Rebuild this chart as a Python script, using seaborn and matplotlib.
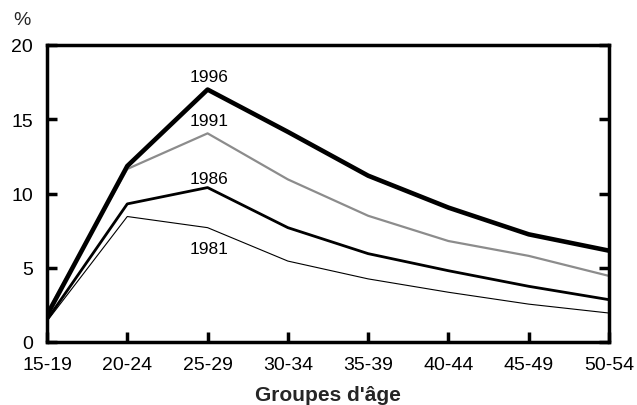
import matplotlib
matplotlib.use('Agg')
import matplotlib.pyplot as plt
import seaborn as sns
import pandas as pd

age_groups = ['15-19', '20-24', '25-29', '30-34', '35-39', '40-44', '45-49', '50-54']
y1981 = [1.4, 8.45, 7.7, 5.45, 4.25, 3.35, 2.55, 1.95]
y1986 = [1.5, 9.3, 10.4, 7.7, 5.95, 4.8, 3.75, 2.85]
y1991 = [2.0, 11.65, 14.05, 10.95, 8.5, 6.8, 5.8, 4.45]
y1996 = [1.8, 11.85, 17.0, 14.15, 11.2, 9.05, 7.25, 6.15]
years = ['1981', '1986', '1991', '1996']

df = pd.DataFrame({'age': age_groups * 4,
                   'x': list(range(len(age_groups))) * 4,
                   'value': y1981 + y1986 + y1991 + y1996,
                   'year': [y for y in years for _ in age_groups]})

sns.set_style('white')
plt.rcParams['font.family'] = ['Liberation Sans', 'DejaVu Sans']

fig = plt.figure(figsize=(6.37, 4.06), dpi=100)
ax = fig.add_axes([47 / 637, 1 - 343 / 406, 562 / 637, 297 / 406])

styles = {'1981': ('black', 0.8), '1986': ('black', 2.0),
          '1991': ('#8c8c8c', 1.6), '1996': ('black', 3.3)}
for yr in years:
    c, lw = styles[yr]
    sns.lineplot(data=df[df['year'] == yr], x='x', y='value', color=c,
                 linewidth=lw, ax=ax, legend=False)

# year labels near the 25-29 point
label_y = {'1996': 17.85, '1991': 14.92, '1986': 11.04, '1981': 6.3}
for yr in years:
    ax.text(2.02, label_y[yr], yr, ha='center', va='center', fontsize=12.5,
            color='black')

ax.set_xlim(0, len(age_groups) - 1)
ax.set_ylim(0, 20)
ax.set_xticks(range(len(age_groups)))
ax.set_xticklabels(age_groups)
ax.set_yticks([0, 5, 10, 15, 20])
ax.tick_params(axis='both', direction='in', length=7, width=2.5, labelsize=14,
               colors='black')
ax.tick_params(axis='y', right=True, left=True, labelright=False, pad=10)
ax.tick_params(axis='x', bottom=True, pad=10)
for s in ax.spines.values():
    s.set_visible(True)
    s.set_linewidth(2.5)
    s.set_color('black')
ax.set_xlabel("Groupes d'âge", fontsize=15, fontweight='bold', labelpad=8.5)
ax.set_ylabel('')
fig.text(13 / 637, 1 - 12 / 406, '%', fontsize=14, ha='left', va='top')

fig.savefig('out.png', dpi=100)
